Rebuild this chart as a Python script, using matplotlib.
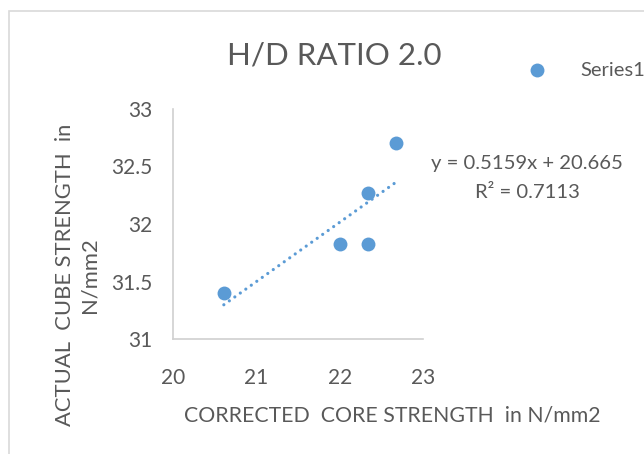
import numpy as np
import matplotlib
matplotlib.use("Agg")
import matplotlib.pyplot as plt
from matplotlib.patches import Rectangle

plt.rcParams["font.family"] = ["Lato", "DejaVu Sans"]

# data
core_strength = [20.61, 22.0, 22.34, 22.34, 22.68]
cube_strength = [31.40, 31.83, 31.83, 32.27, 32.70]
slope = 0.5159
intercept = 20.665
r2 = 0.7113

x_ticks = [20, 21, 22, 23]
y_ticks = [31, 31.5, 32, 32.5, 33]
y_tick_labels = ["31", "31.5", "32", "32.5", "33"]

GREY = "#595959"
BLUE = "#5B9BD5"

W, H = 644, 454
fig = plt.figure(figsize=(W / 100, H / 100), dpi=100)
fig.patch.set_facecolor("white")

# chart area border (cropped on right and bottom)
fig.patches.append(Rectangle((8.5 / W, -0.1), 1.2, 1 - 11 / H + 0.1,
                             transform=fig.transFigure, fill=False,
                             edgecolor="#d9d9d9", lw=1.2))

ax = fig.add_axes([173 / W, 1 - 339 / H, 250 / W, 230 / H])
ax.scatter(core_strength, cube_strength, s=100, color=BLUE, zorder=3,
           linewidths=0, label="Series1")

xl = np.array([min(core_strength), max(core_strength)])
ax.plot(xl, slope * xl + intercept, color=BLUE, lw=2.3,
        linestyle=(0, (0.01, 2.1)), dash_capstyle="round", zorder=2)

ax.set_xlim(20, 23)
ax.set_ylim(31, 33)
ax.set_xticks(x_ticks)
ax.set_yticks(y_ticks)
ax.set_yticklabels(y_tick_labels)
ax.tick_params(length=0, labelsize=15, colors=GREY)
ax.tick_params(axis="x", pad=21)
ax.tick_params(axis="y", pad=15)
for side in ["top", "right"]:
    ax.spines[side].set_visible(False)
for side in ["left", "bottom"]:
    ax.spines[side].set_color("#d0d0d0")
    ax.spines[side].set_linewidth(1.2)

fig.text(334 / W, 1 - 55 / H, "H/D RATIO 2.0", ha="center", va="center",
         fontsize=22.5, color=GREY)

fig.text(392 / W, 1 - 415 / H, "CORRECTED  CORE STRENGTH  in N/mm2",
         ha="center", va="center", fontsize=15.3, color=GREY)
fig.text(77 / W, 1 - 275 / H, "ACTUAL  CUBE STRENGTH  in\nN/mm2",
         ha="center", va="center", rotation=90, multialignment="center",
         fontsize=15.8, color=GREY, linespacing=1.25)

fig.text(527 / W, 1 - 163 / H, f"y = {slope}x + {intercept}",
         ha="center", va="center", fontsize=14.6, color=GREY)
fig.text(527 / W, 1 - 193 / H, f"R² = {r2}",
         ha="center", va="center", fontsize=14.6, color=GREY)

leg = fig.legend(loc="center left", bbox_to_anchor=(517 / W, 1 - 70 / H),
                 frameon=False, fontsize=14.5, handlelength=2.0,
                 handletextpad=1.15, borderpad=0, borderaxespad=0)
for t in leg.get_texts():
    t.set_color(GREY)

fig.savefig("out.png", dpi=100)
